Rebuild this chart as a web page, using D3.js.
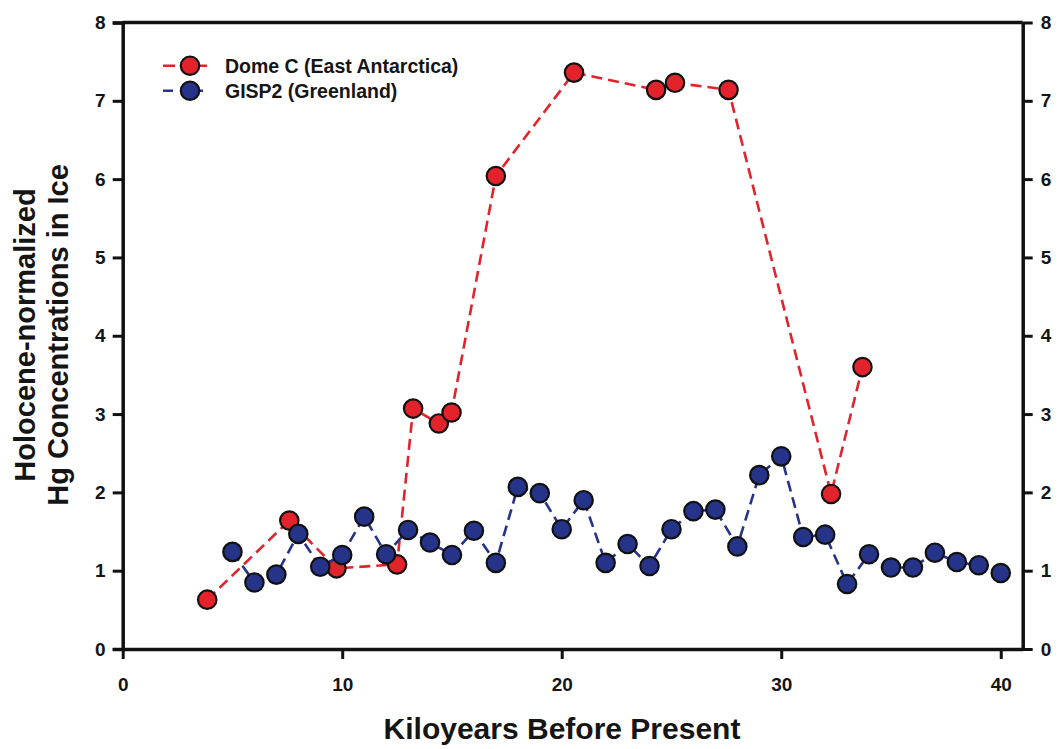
<!DOCTYPE html>
<html>
<head>
<meta charset="utf-8">
<script src="https://cdn.jsdelivr.net/npm/d3@7"></script>
<style>
  html, body { margin: 0; padding: 0; background: #fff; }
  svg { display: block; font-family: "Liberation Sans", Arial, sans-serif; }
</style>
</head>
<body>
<svg id="chart" width="1062" height="749"></svg>
<script>
// Dome C (East Antarctica) record: age (kyr BP) and Holocene-normalized Hg
const domeAge = [3.85, 7.59, 9.74, 12.5, 13.23, 14.4, 14.98, 17.0, 20.56, 24.3, 25.16, 27.6, 32.27, 33.7];
const domeHg  = [0.63, 1.64, 1.03, 1.08, 3.07, 2.88, 3.02, 6.04, 7.36, 7.14, 7.23, 7.14, 1.98, 3.60];

// GISP2 (Greenland) record
const gispAge = [5, 6, 7, 8, 9, 10, 11, 12, 13, 14, 15, 16, 17, 18, 19, 20, 21, 22, 23, 24,
                 25, 26, 27, 28, 29, 30, 31, 32, 33, 34, 35, 36, 37, 38, 39, 40];
const gispHg  = [1.24, 0.85, 0.95, 1.47, 1.05, 1.20, 1.69, 1.21, 1.52, 1.36, 1.20, 1.51, 1.10, 2.07,
                 1.99, 1.53, 1.90, 1.10, 1.34, 1.06, 1.53, 1.76, 1.78, 1.31, 2.22, 2.46, 1.43, 1.46,
                 0.83, 1.21, 1.04, 1.04, 1.23, 1.11, 1.07, 0.97];

const xTicks = [0, 10, 20, 30, 40];
const yTicks = [0, 1, 2, 3, 4, 5, 6, 7, 8];

const seriesNames = ["Dome C (East Antarctica)", "GISP2 (Greenland)"];
const RED = "#e2232b";
const BLUE = "#253389";

const svg = d3.select("#chart");
const plotLeft = 122.7, plotRight = 1022.7, plotTop = 22.5, plotBottom = 649;

const x = d3.scaleLinear().domain([0, 41]).range([plotLeft, plotRight]);
const y = d3.scaleLinear().domain([0, 8]).range([plotBottom, plotTop]);

// frame: top border
svg.append("line")
  .attr("x1", plotLeft).attr("x2", plotRight).attr("y1", plotTop).attr("y2", plotTop)
  .attr("stroke", "#111").attr("stroke-width", 3.5);

function styleAxis(g) {
  g.select(".domain").attr("stroke", "#111").attr("stroke-width", 3.5);
  g.selectAll(".tick line").attr("stroke", "#111").attr("stroke-width", 3);
  g.selectAll(".tick text")
    .attr("fill", "#151515")
    .style("font-size", "19px")
    .style("font-weight", "bold")
    .style("font-family", "'Liberation Sans', Arial, sans-serif");
}

// left axis
svg.append("g")
  .attr("transform", `translate(${plotLeft},0)`)
  .call(d3.axisLeft(y).tickValues(yTicks).tickSize(10).tickSizeOuter(10).tickPadding(7).tickFormat(d3.format("d")))
  .call(styleAxis);

// right axis
svg.append("g")
  .attr("transform", `translate(${plotRight},0)`)
  .call(d3.axisRight(y).tickValues(yTicks).tickSize(10).tickSizeOuter(0).tickPadding(8).tickFormat(d3.format("d")))
  .call(styleAxis);

// bottom axis
svg.append("g")
  .attr("transform", `translate(0,${plotBottom})`)
  .call(d3.axisBottom(x).tickValues(xTicks).tickSize(10).tickSizeOuter(0).tickPadding(19).tickFormat(d3.format("d")))
  .call(styleAxis);

// axis titles
svg.append("text")
  .attr("x", 562).attr("y", 739)
  .attr("text-anchor", "middle")
  .attr("fill", "#151515")
  .style("font-size", "30px").style("font-weight", "bold")
  .text("Kiloyears Before Present");

const yTitle = svg.append("text")
  .attr("transform", "translate(0,335) rotate(-90)")
  .attr("text-anchor", "middle")
  .attr("fill", "#151515")
  .style("font-size", "29px").style("font-weight", "bold");
yTitle.append("tspan").attr("x", 0).attr("y", 35).text("Holocene-normalized");
yTitle.append("tspan").attr("x", 0).attr("y", 68).text("Hg Concentrations in Ice");

// series
const line = d3.line().x(d => x(d[0])).y(d => y(d[1]));
const dome = domeAge.map((a, i) => [a, domeHg[i]]);
const gisp = gispAge.map((a, i) => [a, gispHg[i]]);

function drawSeries(data, color) {
  svg.append("path")
    .datum(data)
    .attr("d", line)
    .attr("fill", "none")
    .attr("stroke", color)
    .attr("stroke-width", 2.6)
    .attr("stroke-dasharray", "11,6");
  svg.append("g").selectAll("circle")
    .data(data).join("circle")
    .attr("cx", d => x(d[0])).attr("cy", d => y(d[1]))
    .attr("r", 9.2)
    .attr("fill", color)
    .attr("stroke", "#111")
    .attr("stroke-width", 2.2);
}
drawSeries(dome, RED);
drawSeries(gisp, BLUE);

// legend
const legend = svg.append("g");
[RED, BLUE].forEach((c, i) => {
  const ly = 65.7 + i * 25;
  legend.append("line")
    .attr("x1", 163).attr("x2", 207).attr("y1", ly).attr("y2", ly)
    .attr("stroke", c).attr("stroke-width", 2.6)
    .attr("stroke-dasharray", i === 0 ? "12,20,12" : "10,24,6,4,3");
  legend.append("circle")
    .attr("cx", 190).attr("cy", ly).attr("r", 9.2)
    .attr("fill", c).attr("stroke", "#111").attr("stroke-width", 2.2);
  legend.append("text")
    .attr("x", 225).attr("y", ly + 7)
    .attr("fill", "#151515")
    .style("font-size", "19.5px").style("font-weight", "bold")
    .text(seriesNames[i]);
});
</script>
</body>
</html>
